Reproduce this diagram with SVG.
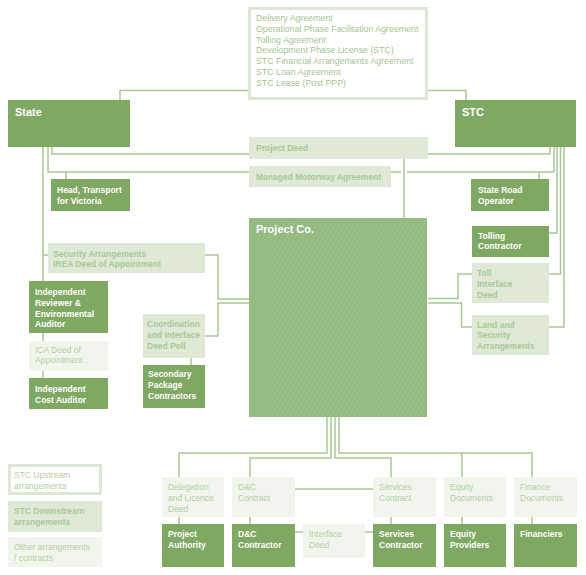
<svg xmlns="http://www.w3.org/2000/svg" width="586" height="575" viewBox="0 0 586 575">
<style>
.dk{fill:#7fa963}
.lt{fill:#dfe9d6}
.vl{fill:#f1f5ee}
.ub{fill:#fff;stroke:#dce8d3;stroke-width:3}
.t{font-family:"Liberation Sans",Arial,sans-serif;font-size:8.5px}
.w{fill:#fff;font-weight:bold}
.h{fill:#fff;font-weight:bold;font-size:11px}
.lb{fill:#a9c897;font-weight:bold}
.rg{fill:#b4cfa3}
.up{fill:#a6c592;font-size:8.8px}
.cn path{fill:none;stroke:#a9c996;stroke-width:1.5}
</style>
<defs>
<pattern id="hatch" width="4" height="4" patternUnits="userSpaceOnUse" patternTransform="rotate(30)">
<rect width="4" height="4" fill="#98bd85"/>
<rect width="1.2" height="4" fill="#8fb67b"/>
</pattern>
</defs>

<g id="connectors" class="cn">
<path d="M120 100V90.5H249"/>
<path d="M427 90.5H466V100"/>
<path d="M52 147V154H250"/>
<path d="M428 154H550V147"/>
<path d="M48 147V172H249"/>
<path d="M391 172H401M407 172H554V147"/>
<path d="M66 172V179"/>
<path d="M539 172V179"/>
<path d="M404 159V218"/>
<path d="M43 147V281"/>
<path d="M43 255H48"/>
<path d="M43 333V341M43 371V378"/>
<path d="M205 255H218V299H249"/>
<path d="M249 303H218V336H205"/>
<path d="M191 358V365"/>
<path d="M549 233H557V147"/>
<path d="M549 274H560.5V147"/>
<path d="M549 327H564V147"/>
<path d="M428 298.5H458V274H472"/>
<path d="M428 303H461.5V327H472"/>
<path d="M327 417V453H179V477"/>
<path d="M331 417V458H250V477"/>
<path d="M335 417V458H391V477"/>
<path d="M339 417V453H532V477M462 453V477"/>
<path d="M179 517V524M250 517V524M391 517V524M462 517V524M532 517V524"/>
<path d="M295 489H373"/>
<path d="M295 532H303M365 532H373"/>
</g>

<g id="upstream">
<rect class="ub" x="249.5" y="8.5" width="177" height="90"/>
<text class="t up"><tspan x="256" y="21">Delivery Agreement</tspan><tspan x="256" y="31.8">Operational Phase Facilitation Agreement</tspan><tspan x="256" y="42.6">Tolling Agreement</tspan><tspan x="256" y="53.4">Development Phase License (STC)</tspan><tspan x="256" y="64.2">STC Financial Arrangements Agreement</tspan><tspan x="256" y="75">STC Loan Agreement</tspan><tspan x="256" y="85.8">STC Lease (Post PPP)</tspan></text>
</g>

<g id="state"><rect class="dk" x="8" y="100" width="122" height="47"/><text class="t h" x="15" y="116">State</text></g>
<g id="stc"><rect class="dk" x="455" y="100" width="121" height="47"/><text class="t h" x="462" y="116">STC</text></g>

<g id="project-deed"><rect class="lt" x="249" y="137" width="179" height="22"/><text class="t lb" x="256" y="151">Project Deed</text></g>
<g id="mma"><rect class="lt" x="249" y="166" width="142" height="21"/><text class="t lb" x="256" y="179.5">Managed Motorway Agreement</text></g>

<g id="head-tfv"><rect class="dk" x="51" y="179" width="79" height="32"/><text class="t w"><tspan x="57" y="193">Head, Transport</tspan><tspan x="57" y="204">for Victoria</tspan></text></g>
<g id="sro"><rect class="dk" x="471" y="179" width="78" height="32"/><text class="t w"><tspan x="478" y="193">State Road</tspan><tspan x="478" y="204">Operator</tspan></text></g>

<g id="project-co"><rect x="249" y="218" width="178" height="199" fill="url(#hatch)"/><text class="t h" x="256" y="233">Project Co.</text></g>

<g id="security"><rect class="lt" x="48" y="243" width="157" height="30"/><text class="t lb"><tspan x="53" y="256.5">Security Arrangements</tspan><tspan x="53" y="267">IREA Deed of Appointment</tspan></text></g>

<g id="ireviewer"><rect class="dk" x="29" y="281" width="79" height="52"/><text class="t w"><tspan x="35" y="295">Independent</tspan><tspan x="35" y="305.8">Reviewer &amp;</tspan><tspan x="35" y="316.6">Environmental</tspan><tspan x="35" y="327.4">Auditor</tspan></text></g>
<g id="ica-deed"><rect class="vl" x="29" y="341" width="79" height="30"/><text class="t rg"><tspan x="35" y="352.5">ICA Deed of</tspan><tspan x="35" y="363">Appointment</tspan></text></g>
<g id="cost-auditor"><rect class="dk" x="29" y="378" width="79" height="31"/><text class="t w"><tspan x="35" y="392">Independent</tspan><tspan x="35" y="402.8">Cost Auditor</tspan></text></g>

<g id="coordination"><rect class="lt" x="143" y="314" width="62" height="44"/><text class="t lb"><tspan x="147" y="327">Coordination</tspan><tspan x="147" y="337.8">and Interface</tspan><tspan x="147" y="348.6">Deed Poll</tspan></text></g>
<g id="secondary"><rect class="dk" x="143" y="365" width="62" height="43"/><text class="t w"><tspan x="148" y="377">Secondary</tspan><tspan x="148" y="387.8">Package</tspan><tspan x="148" y="398.6">Contractors</tspan></text></g>

<g id="tolling"><rect class="dk" x="472" y="226" width="77" height="31"/><text class="t w"><tspan x="478" y="238.5">Tolling</tspan><tspan x="478" y="249.3">Contractor</tspan></text></g>
<g id="toll-interface"><rect class="lt" x="472" y="263" width="77" height="40"/><text class="t lb"><tspan x="477" y="276">Toll</tspan><tspan x="477" y="286.8">Interface</tspan><tspan x="477" y="297.6">Deed</tspan></text></g>
<g id="land"><rect class="lt" x="472" y="315" width="77" height="40"/><text class="t lb"><tspan x="477" y="327.5">Land and</tspan><tspan x="477" y="338.3">Security</tspan><tspan x="477" y="349.1">Arrangements</tspan></text></g>

<g id="delegation"><rect class="vl" x="162" y="477" width="62" height="40"/><text class="t rg"><tspan x="168" y="490">Delegation</tspan><tspan x="168" y="500.8">and Licence</tspan><tspan x="168" y="511.6">Deed</tspan></text></g>
<g id="dc-contract"><rect class="vl" x="232" y="477" width="63" height="40"/><text class="t rg"><tspan x="238" y="490">D&amp;C</tspan><tspan x="238" y="500.8">Contract</tspan></text></g>
<g id="services-contract"><rect class="vl" x="373" y="477" width="63" height="40"/><text class="t rg"><tspan x="379" y="490">Services</tspan><tspan x="379" y="500.8">Contract</tspan></text></g>
<g id="equity-docs"><rect class="vl" x="444" y="477" width="62" height="40"/><text class="t rg"><tspan x="450" y="490">Equity</tspan><tspan x="450" y="500.8">Documents</tspan></text></g>
<g id="finance-docs"><rect class="vl" x="514" y="477" width="63" height="40"/><text class="t rg"><tspan x="520" y="490">Finance</tspan><tspan x="520" y="500.8">Documents</tspan></text></g>

<g id="project-authority"><rect class="dk" x="162" y="524" width="62" height="43"/><text class="t w"><tspan x="168" y="537">Project</tspan><tspan x="168" y="547.8">Authority</tspan></text></g>
<g id="dc-contractor"><rect class="dk" x="232" y="524" width="63" height="43"/><text class="t w"><tspan x="238" y="537">D&amp;C</tspan><tspan x="238" y="547.8">Contractor</tspan></text></g>
<g id="interface-deed"><rect class="vl" x="303" y="524" width="62" height="34"/><text class="t rg"><tspan x="309" y="537">Interface</tspan><tspan x="309" y="547.8">Deed</tspan></text></g>
<g id="services-contractor"><rect class="dk" x="373" y="524" width="63" height="43"/><text class="t w"><tspan x="379" y="537">Services</tspan><tspan x="379" y="547.8">Contractor</tspan></text></g>
<g id="equity-providers"><rect class="dk" x="444" y="524" width="62" height="43"/><text class="t w"><tspan x="450" y="537">Equity</tspan><tspan x="450" y="547.8">Providers</tspan></text></g>
<g id="financiers"><rect class="dk" x="514" y="524" width="63" height="43"/><text class="t w"><tspan x="520" y="537">Financiers</tspan></text></g>

<g id="legend-upstream"><rect class="ub" x="9.5" y="465.5" width="91" height="28"/><text class="t rg"><tspan x="14" y="478">STC Upstream</tspan><tspan x="14" y="488.5">arrangements</tspan></text></g>
<g id="legend-downstream"><rect class="lt" x="8" y="501" width="94" height="31"/><text class="t lb"><tspan x="14" y="514">STC Downstream</tspan><tspan x="14" y="524.5">arrangements</tspan></text></g>
<g id="legend-other"><rect class="vl" x="8" y="537" width="94" height="30"/><text class="t rg"><tspan x="14" y="550">Other arrangements</tspan><tspan x="14" y="560.5">/ contracts</tspan></text></g>
</svg>
